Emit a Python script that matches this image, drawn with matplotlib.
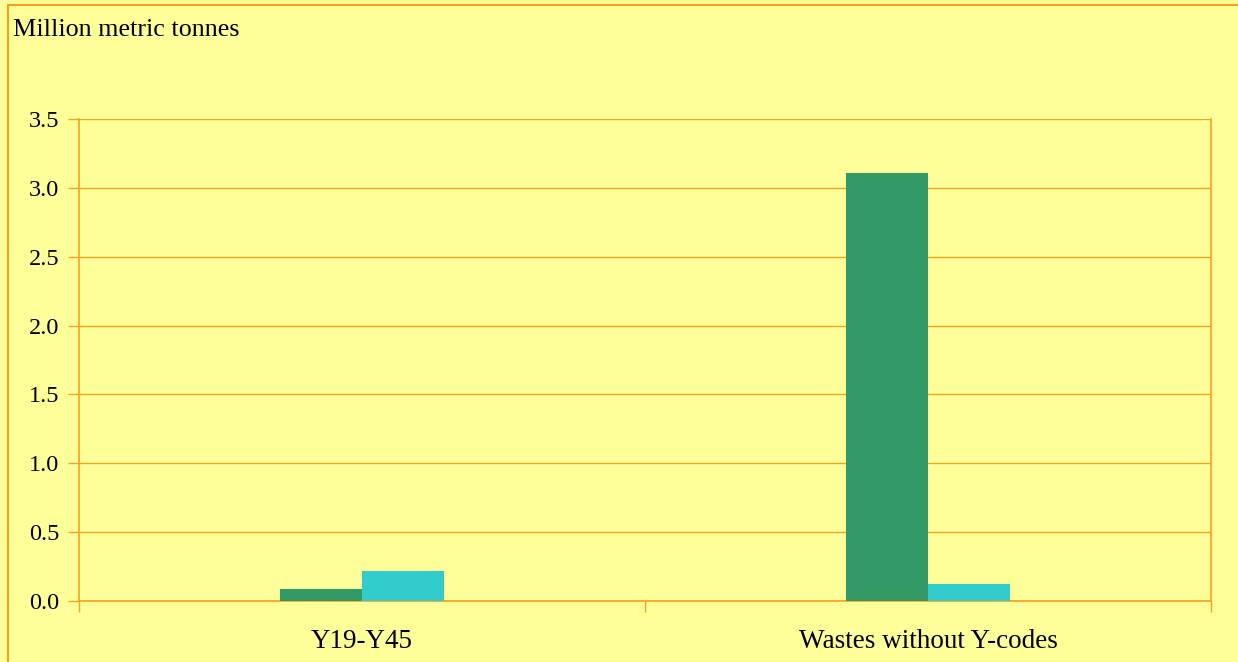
import numpy as np
import matplotlib.pyplot as plt
from matplotlib.patches import Rectangle

# Data
categories = ['Y19-Y45', 'Wastes without Y-codes']
series_a = [0.087, 3.11]   # green
series_b = [0.218, 0.123]  # cyan
y_ticks = [0.0, 0.5, 1.0, 1.5, 2.0, 2.5, 3.0, 3.5]

plt.rcParams['font.family'] = ['Liberation Serif', 'DejaVu Serif']

W, H = 1238, 662
fig = plt.figure(figsize=(W / 100, H / 100), dpi=100)
bg = '#FFFF99'
orange = '#F5A21E'
fig.patch.set_facecolor(bg)

# outer chart-area border (left and top visible)
fig.add_artist(Rectangle((8 / W, -0.01), 1.2, 1 - 5 / H + 0.01, transform=fig.transFigure,
                         fill=False, edgecolor=orange, linewidth=1.5))

ax = fig.add_axes([79 / W, 1 - 601 / H, (1211 - 79) / W, (601 - 119) / H])
ax.set_facecolor(bg)

x = np.arange(len(categories))
bw = 0.144
ax.bar(x - bw / 2, series_a, width=bw, color='#339966', zorder=3)
ax.bar(x + bw / 2, series_b, width=bw, color='#33CCCC', zorder=3)

ax.set_xlim(-0.5, 1.5)
ax.set_ylim(0, 3.5)
ax.set_yticks(y_ticks)
ax.set_yticklabels([f'{v:.1f}' for v in y_ticks], fontsize=17.5)
ax.set_xticks([-0.5, 0.5, 1.5], minor=False)
ax.set_xticklabels(['', '', ''])
ax.set_xticks(x, minor=True)
ax.set_xticklabels(categories, minor=True, fontsize=19.5)
ax.tick_params(axis='x', which='minor', length=0, pad=20)
ax.tick_params(axis='x', which='major', length=8, color=orange, width=1)
ax.tick_params(axis='y', length=8, color=orange, width=1, pad=6)

ax.yaxis.grid(True, color=orange, linewidth=1)
ax.spines['top'].set_visible(False)
for s in ['left', 'bottom', 'right']:
    ax.spines[s].set_color(orange)
    ax.spines[s].set_linewidth(1.2)

fig.text(13 / W, 1 - 30 / H, 'Million metric tonnes', fontsize=18.8, va='center', ha='left')

fig.savefig('out.png', dpi=100, facecolor=bg)
